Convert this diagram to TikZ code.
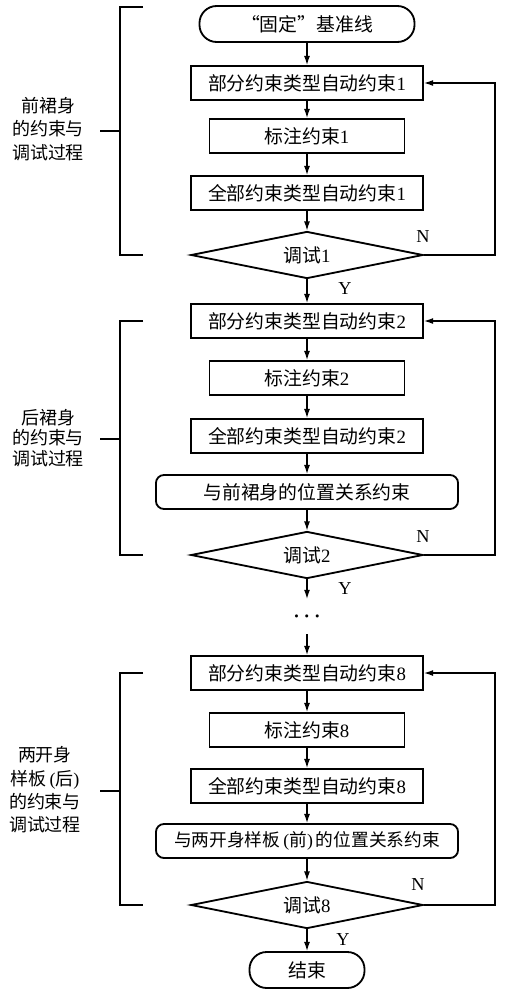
\documentclass[tikz,border=0pt]{standalone}
\usepackage{fontspec}
\setmainfont{Liberation Serif}
\newfontfamily\cjk{Noto Sans CJK SC}
\usetikzlibrary{shapes.geometric, arrows.meta, positioning}
\newcommand{\zh}[1]{{\cjk #1}}
\tikzset{
  box/.style={
    rectangle, draw, line width=1.3pt, text centered, inner sep=0pt,
    font=\fontsize{13.4}{16}\selectfont,
    minimum height=0.85cm, minimum width=5.8cm
  },
  markbox/.style={box, minimum width=4.875cm},
  posbox/.style={box, rounded corners=0.2cm, minimum width=7.55cm},
  term/.style={box, rounded corners=0.43cm, minimum height=0.9cm},
  check/.style={
    diamond, draw, line width=1.3pt, inner sep=0pt, aspect=4.9,
    font=\fontsize{13.4}{16}\selectfont,
    minimum width=5.8cm, minimum height=1.175cm
  },
  arr/.style={-{Latex[length=2.3mm,width=1.5mm]}, line width=0.9pt},
  brk/.style={line width=0.9pt},
  grplbl/.style={align=center, inner sep=0pt,
    font=\cjk\fontsize{12.8}{16.6}\selectfont},
  yn/.style={inner sep=0pt, font=\fontsize{13}{15}\selectfont}
}

\begin{document}
\begin{tikzpicture}[x=0.025cm, y=-0.025cm]
  \useasboundingbox (0,0) rectangle (508,1000);

  %% front skirt
  \node[term, minimum width=5.375cm] (start) at (307,24) {\zh{“固定”基准线}};
  \node[box]     (b1) at (307,83)  {\zh{部分约束类型自动约束}1};
  \node[markbox] (m1) at (307,136) {\zh{标注约束}1};
  \node[box]     (a1) at (307,193) {\zh{全部约束类型自动约束}1};
  \node[check]   (d1) at (307,255) {\zh{调试}1};

  \node[grplbl] (g1) at (48,129) {前裙身\\的约束与\\调试过程};
  \draw[brk] (143,7) -| (120,255) -- (143,255);
  \draw[brk] (100,131) -- (120,131);

  \draw[arr] (start) -- (b1);
  \draw[arr] (b1) -- (m1);
  \draw[arr] (m1) -- (a1);
  \draw[arr] (a1) -- (d1);
  \draw[arr] (d1.east) -- ++(71,0) |- (b1.east);
  \node[yn] (n1) at ([shift={(-1,-18)}]d1.east) {N};
  \node[yn] (y1) at ([shift={(38,9)}]d1.south) {Y};

  %% back skirt
  \node[box]     (b2) at (307,321) {\zh{部分约束类型自动约束}2};
  \node[markbox] (m2) at (307,378) {\zh{标注约束}2};
  \node[box]     (a2) at (307,436) {\zh{全部约束类型自动约束}2};
  \node[posbox]  (p2) at (307,492) {\zh{与前裙身的位置关系约束}};
  \node[check]   (d2) at (307,555) {\zh{调试}2};

  \node[grplbl, font=\cjk\fontsize{12.8}{14.8}\selectfont] (g2) at (48,438)
    {后裙身\\的约束与\\调试过程};
  \draw[brk] (143,321) -| (120,555) -- (143,555);
  \draw[brk] (100,439) -- (120,439);

  \draw[arr] (d1) -- (b2);
  \draw[arr] (b2) -- (m2);
  \draw[arr] (m2) -- (a2);
  \draw[arr] (a2) -- (p2);
  \draw[arr] (p2) -- (d2);
  \draw[arr] (d2.east) -- ++(71,0) |- (b2.east);
  \node[yn] (n2) at ([shift={(-1,-18)}]d2.east) {N};
  \node[yn] (y2) at ([shift={(38,9)}]d2.south) {Y};

  %% skipped steps
  \node[inner sep=0pt, font=\fontsize{15}{15}\selectfont\boldmath]
    (dots) at (307,617) {$\cdots$};
  \coordinate (skipin)  at (307,599);
  \coordinate (skipout) at (307,634);
  \draw[arr] (d2) -- (skipin);

  %% two-piece pattern (back)
  \node[box]     (b8) at (307,673) {\zh{部分约束类型自动约束}8};
  \node[markbox] (m8) at (307,730) {\zh{标注约束}8};
  \node[box]     (a8) at (307,786) {\zh{全部约束类型自动约束}8};
  \node[posbox, font=\fontsize{12.6}{15}\selectfont] (p8) at (307,841)
    {\zh{与两开身样板}\,(\zh{前})\,\zh{的位置关系约束}};
  \node[check]   (d8) at (307,905) {\zh{调试}8};
  \node[term, minimum width=2.875cm] (stop) at (307,970) {\zh{结束}};

  \node[grplbl] (g8) at (45,790)
    {两开身\\样板\,{\rmfamily(}后{\rmfamily)}\\的约束与\\调试过程};
  \draw[brk] (143,673) -| (120,905) -- (143,905);
  \draw[brk] (100,791) -- (120,791);

  \draw[arr] (skipout) -- (b8);
  \draw[arr] (b8) -- (m8);
  \draw[arr] (m8) -- (a8);
  \draw[arr] (a8) -- (p8);
  \draw[arr] (p8) -- (d8);
  \draw[arr] (d8) -- (stop);
  \draw[arr] (d8.east) -- ++(71,0) |- (b8.east);
  \node[yn] (n8) at ([shift={(-6,-20)}]d8.east) {N};
  \node[yn] (y8) at ([shift={(36,10)}]d8.south) {Y};

\end{tikzpicture}
\end{document}
